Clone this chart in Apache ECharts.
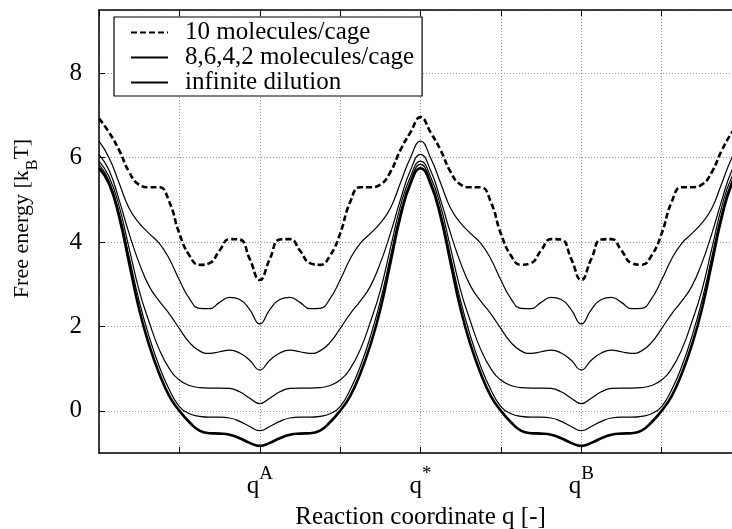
<!DOCTYPE html>
<html>
<head>
<meta charset="utf-8">
<script src="https://cdn.jsdelivr.net/npm/echarts@6/dist/echarts.min.js"></script>
<style>html,body{margin:0;padding:0;background:#fff}#c{width:732px;height:529px}</style>
</head>
<body>
<div id="c"></div>
<script>
// Reaction coordinate (qA = 2, q* = 4, qB = 6)
var q = [0,0.125,0.25,0.375,0.5,0.625,0.75,0.875,1,1.125,1.25,1.375,1.5,1.625,1.75,1.875,2,
2.125,2.25,2.375,2.5,2.625,2.75,2.875,3,3.125,3.25,3.375,3.5,3.625,3.75,3.875,4,
4.125,4.25,4.375,4.5,4.625,4.75,4.875,5,5.125,5.25,5.375,5.5,5.625,5.75,5.875,6,
6.125,6.25,6.375,6.5,6.625,6.75,6.875,7,7.125,7.25,7.375,7.5,7.625,7.75,7.875,8];

var xTickPos = [2, 4, 6];
var xTickSup = ['A', '*', 'B'];
var yTickValues = [0, 2, 4, 6, 8];

var seriesNames = ['10 molecules/cage', '8,6,4,2 molecules/cage', 'infinite dilution'];

var f10 = [6.93,6.6,6.18,5.66,5.36,5.3,5.3,4.95,4.2,3.68,3.46,3.5,3.8,4.07,4.06,3.6,3.1,
3.6,4.06,4.07,3.8,3.5,3.46,3.68,4.2,4.95,5.3,5.3,5.36,5.66,6.18,6.6,6.96,
6.6,6.18,5.66,5.36,5.3,5.3,4.95,4.2,3.68,3.46,3.5,3.8,4.07,4.06,3.6,3.1,
3.6,4.06,4.07,3.8,3.5,3.46,3.68,4.2,4.95,5.3,5.3,5.36,5.66,6.18,6.6,6.93];

var f8 = [6.39,6.0,5.4,4.8,4.45,4.2,3.97,3.6,3.1,2.66,2.43,2.42,2.57,2.69,2.64,2.4,2.06,
2.4,2.64,2.69,2.57,2.42,2.43,2.66,3.1,3.6,3.97,4.2,4.45,4.8,5.4,6.0,6.39,
6.0,5.4,4.8,4.45,4.2,3.97,3.6,3.1,2.66,2.43,2.42,2.57,2.69,2.64,2.4,2.06,
2.4,2.64,2.69,2.57,2.42,2.43,2.66,3.1,3.6,3.97,4.2,4.45,4.8,5.4,6.0,6.39];

var f6 = [6.08,5.7,5.0,4.2,3.5,2.95,2.6,2.3,1.95,1.62,1.42,1.36,1.4,1.44,1.37,1.2,0.97,
1.2,1.37,1.44,1.4,1.36,1.42,1.62,1.95,2.3,2.6,2.95,3.5,4.2,5.0,5.7,6.08,
5.7,5.0,4.2,3.5,2.95,2.6,2.3,1.95,1.62,1.42,1.36,1.4,1.44,1.37,1.2,0.97,
1.2,1.37,1.44,1.4,1.36,1.42,1.62,1.95,2.3,2.6,2.95,3.5,4.2,5.0,5.7,6.08];

var f4 = [5.92,5.55,4.85,3.85,2.85,2.1,1.45,1.0,0.73,0.6,0.55,0.54,0.54,0.53,0.45,0.3,0.17,
0.3,0.45,0.53,0.54,0.54,0.55,0.6,0.73,1.0,1.45,2.1,2.85,3.85,4.85,5.55,5.92,
5.55,4.85,3.85,2.85,2.1,1.45,1.0,0.73,0.6,0.55,0.54,0.54,0.53,0.45,0.3,0.17,
0.3,0.45,0.53,0.54,0.54,0.55,0.6,0.73,1.0,1.45,2.1,2.85,3.85,4.85,5.55,5.92];

var f2 = [5.84,5.45,4.7,3.65,2.6,1.75,1.05,0.5,0.1,-0.07,-0.13,-0.15,-0.15,-0.17,-0.25,-0.37,-0.47,
-0.37,-0.25,-0.17,-0.15,-0.15,-0.13,-0.07,0.1,0.5,1.05,1.75,2.6,3.65,4.7,5.45,5.84,
5.45,4.7,3.65,2.6,1.75,1.05,0.5,0.1,-0.07,-0.13,-0.15,-0.15,-0.17,-0.25,-0.37,-0.47,
-0.37,-0.25,-0.17,-0.15,-0.15,-0.13,-0.07,0.1,0.5,1.05,1.75,2.6,3.65,4.7,5.45,5.84];

var fInf = [5.75,5.38,4.6,3.5,2.4,1.55,0.88,0.35,0.0,-0.27,-0.47,-0.53,-0.54,-0.57,-0.65,-0.76,-0.83,
-0.76,-0.65,-0.57,-0.54,-0.53,-0.47,-0.27,0.0,0.35,0.88,1.55,2.4,3.5,4.6,5.38,5.75,
5.38,4.6,3.5,2.4,1.55,0.88,0.35,0.0,-0.27,-0.47,-0.53,-0.54,-0.57,-0.65,-0.76,-0.83,
-0.76,-0.65,-0.57,-0.54,-0.53,-0.47,-0.27,0.0,0.35,0.88,1.55,2.4,3.5,4.6,5.38,5.75];

function pairs(vals) { return q.map(function (x, i) { return [x, vals[i]]; }); }

var FONT = 'Liberation Serif';
var chart = echarts.init(document.getElementById('c'), null, {renderer: 'canvas'});

function mkLine(name, vals, width, type) {
  return {
    name: name, type: 'line', data: pairs(vals), smooth: true, symbol: 'none',
    showSymbol: false, xAxisIndex: 0, yAxisIndex: 0,
    lineStyle: {color: '#000', width: width, type: type},
    itemStyle: {color: '#000'}, emphasis: {disabled: true}
  };
}

var option = {
  animation: false,
  backgroundColor: '#fff',
  textStyle: {fontFamily: FONT},
  grid: {left: 99, top: 10, right: -10, bottom: 76, containLabel: false, outerBoundsMode: 'none'},
  legend: {
    data: seriesNames,
    left: 114, top: 17, orient: 'vertical',
    backgroundColor: '#fff', borderColor: '#000', borderWidth: 1.2, borderRadius: 0,
    padding: [3, 8, 1, 16], itemGap: 0, itemWidth: 37, itemHeight: 14,
    selectedMode: false,
    itemStyle: {color: 'rgba(0,0,0,0)', borderWidth: 0, opacity: 0},
    textStyle: {fontFamily: FONT, fontSize: 25, color: '#000', lineHeight: 24, padding: [0, 0, 0, 12]}
  },
  xAxis: [{
    type: 'value', min: 0, max: 8, interval: 1, position: 'bottom',
    axisLine: {show: true, onZero: false, lineStyle: {color: '#000', width: 1.5}},
    axisTick: {show: true, inside: true, length: 6, lineStyle: {color: '#000', width: 1}},
    splitLine: {show: true, lineStyle: {color: '#999', width: 1, type: [1, 2]}},
    axisLabel: {
      margin: 12, color: '#000', fontFamily: FONT, showMinLabel: false, showMaxLabel: false,
      formatter: function (v) {
        var i = xTickPos.indexOf(v);
        return i < 0 ? '' : '{b|q}{s|' + xTickSup[i] + '}';
      },
      rich: {
        b: {fontFamily: FONT, fontSize: 25, color: '#000', lineHeight: 34, verticalAlign: 'bottom'},
        s: {fontFamily: FONT, fontSize: 19, color: '#000', lineHeight: 19, verticalAlign: 'top'}
      }
    },
    name: 'Reaction coordinate q [-]', nameLocation: 'middle', nameGap: 52,
    nameTextStyle: {fontFamily: FONT, fontSize: 25, color: '#000'}
  }, {
    type: 'value', min: 0, max: 8, interval: 1, position: 'top',
    axisLine: {show: true, onZero: false, lineStyle: {color: '#000', width: 1.5}},
    axisTick: {show: true, inside: true, length: 6, lineStyle: {color: '#000', width: 1}},
    splitLine: {show: false}, axisLabel: {show: false}
  }],
  yAxis: {
    type: 'value', min: -1, max: 9.5, splitNumber: 5,
    axisLine: {show: true, onZero: false, lineStyle: {color: '#000', width: 1.5}},
    axisTick: {show: true, inside: true, length: 6, lineStyle: {color: '#000', width: 1}},
    splitLine: {show: true, lineStyle: {color: '#999', width: 1, type: [1, 2]}},
    axisLabel: {
      margin: 17, color: '#000', fontFamily: FONT, fontSize: 25,
      showMinLabel: false, showMaxLabel: false,
      formatter: function (v) { return yTickValues.indexOf(v) >= 0 ? String(v) : ''; }
    },
    name: '{t|Free energy [k}{s|B}{t|T]}', nameLocation: 'middle', nameGap: 58,
    nameTextStyle: {
      fontFamily: FONT, fontSize: 22, color: '#000', padding: [0, 0, 0, 26],
      rich: {
        t: {fontFamily: FONT, fontSize: 22, color: '#000', lineHeight: 30, verticalAlign: 'top'},
        s: {fontFamily: FONT, fontSize: 16, color: '#000', lineHeight: 16, verticalAlign: 'bottom'}
      }
    }
  },
  series: [
    mkLine(seriesNames[1], f8, 1.2, 'solid'),
    mkLine(seriesNames[1], f6, 1.2, 'solid'),
    mkLine(seriesNames[1], f4, 1.2, 'solid'),
    mkLine(seriesNames[1], f2, 1.2, 'solid'),
    mkLine(seriesNames[2], fInf, 2.6, 'solid'),
    mkLine(seriesNames[0], f10, 2.6, [6, 3])
  ]
};
chart.setOption(option);
</script>
</body>
</html>
